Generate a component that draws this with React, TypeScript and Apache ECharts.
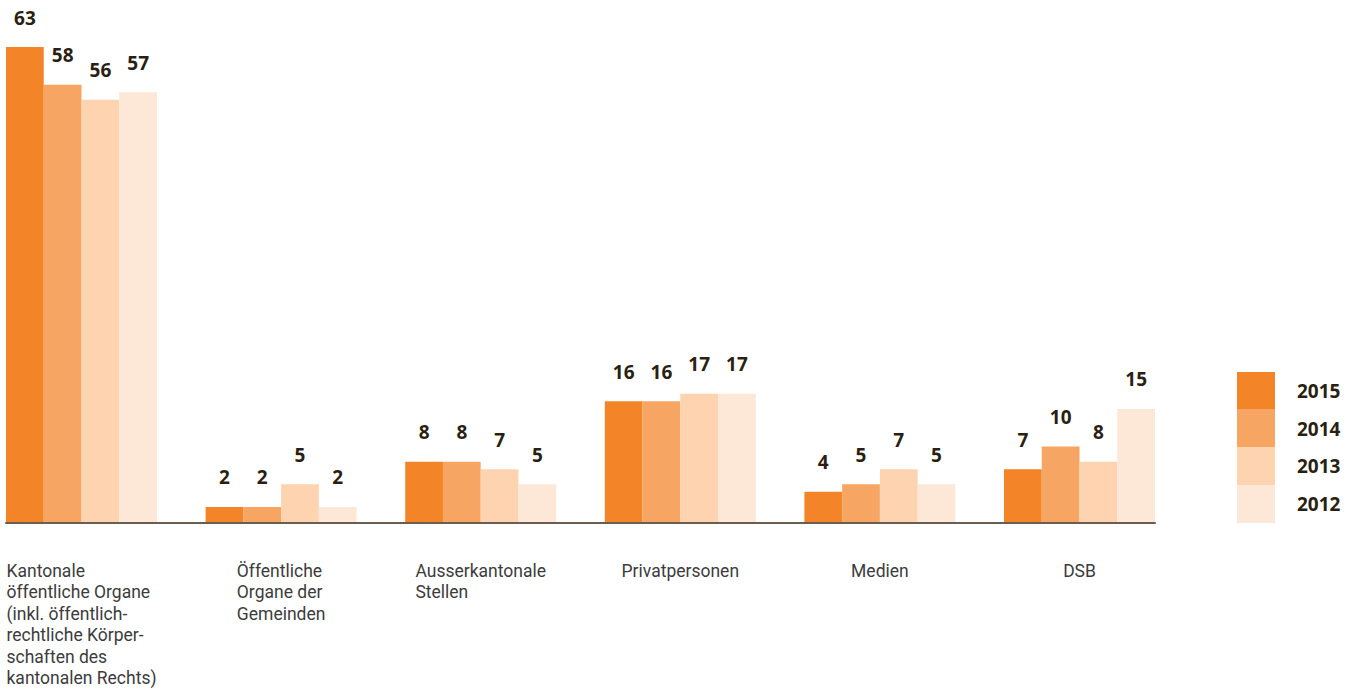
import React, { useEffect, useRef } from "react";
import * as echarts from "echarts";

const categories = [
  "Kantonale\nöffentliche Organe\n(inkl. öffentlich-\nrechtliche Körper-\nschaften des\nkantonalen Rechts)",
  "Öffentliche\nOrgane der\nGemeinden",
  "Ausserkantonale\nStellen",
  "Privatpersonen",
  "Medien",
  "DSB",
];
const years = ["2015", "2014", "2013", "2012"];
const values2015 = [63, 2, 8, 16, 4, 7];
const values2014 = [58, 2, 8, 16, 5, 10];
const values2013 = [56, 5, 7, 17, 7, 8];
const values2012 = [57, 2, 5, 17, 5, 15];
const colors = ["#F48428", "#F7A563", "#FDD3B0", "#FDE7D7"];

export default function App() {
  const ref = useRef<HTMLDivElement>(null);
  useEffect(() => {
    if (!ref.current) return;
    const chart = echarts.init(ref.current, null, { renderer: "svg" });
    const seriesValues = [values2015, values2014, values2013, values2012];
    const labelFont = "'Open Sans', sans-serif";
    const axisFont = "Roboto, sans-serif";
    chart.setOption({
      animation: false,
      backgroundColor: "#ffffff",
      grid: [
        { left: -18.3, width: 1197.6, top: 47, bottom: 168, containLabel: false, outerBoundsMode: "none" },
        { left: 6, width: 1149, top: 400, bottom: 167, containLabel: false, outerBoundsMode: "none" },
      ],
      legend: {
        orient: "vertical",
        left: 1237,
        top: 372,
        padding: 0,
        itemWidth: 38,
        itemHeight: 37.75,
        itemGap: 0,
        icon: "rect",
        data: years,
        selectedMode: false,
        textStyle: {
          fontFamily: labelFont,
          fontWeight: "bold",
          fontSize: 19,
          color: "#2a1f12",
          padding: [0, 0, 0, 17],
        },
        itemStyle: { borderWidth: 0 },
      },
      xAxis: [
        {
          type: "category",
          gridIndex: 0,
          data: categories,
          axisLine: { show: false },
          axisTick: { show: false },
          axisLabel: {
            margin: 38,
            interval: 0,
            fontFamily: axisFont,
            fontSize: 17.5,
            color: "#3c3c3c",
            lineHeight: 21.5,
            formatter: (v: string) =>
              v
                .split("\n")
                .map((l) => `{l|${l}}`)
                .join("\n"),
            rich: {
              l: {
                align: "left",
                fontFamily: axisFont,
                fontSize: 17.5,
                color: "#3c3c3c",
                lineHeight: 21.5,
              },
            },
          },
        },
        {
          type: "value",
          gridIndex: 1,
          min: 0,
          max: 1,
          axisLine: { show: true, lineStyle: { color: "#6b5e50", width: 2 } },
          axisTick: { show: false },
          axisLabel: { show: false },
          splitLine: { show: false },
        },
      ],
      yAxis: [
        { type: "value", gridIndex: 0, min: 0, max: 63, show: false, splitLine: { show: false } },
        { type: "value", gridIndex: 1, min: 0, max: 1, show: false, splitLine: { show: false } },
      ],
      series: years.map((y, i) => ({
        name: y,
        type: "bar",
        xAxisIndex: 0,
        yAxisIndex: 0,
        data: seriesValues[i],
        barWidth: 37.75,
        barGap: "0%",
        itemStyle: { color: colors[i] },
        z: 1,
        label: {
          show: true,
          position: "top",
          distance: 20,
          fontFamily: labelFont,
          fontWeight: "bold",
          fontSize: 19,
          color: "#2a1f12",
        },
      })),
    });
    return () => chart.dispose();
  }, []);
  return (
    <div
      ref={ref}
      style={{ position: "absolute", left: 0, top: 0, width: 1359, height: 690 }}
    />
  );
}
